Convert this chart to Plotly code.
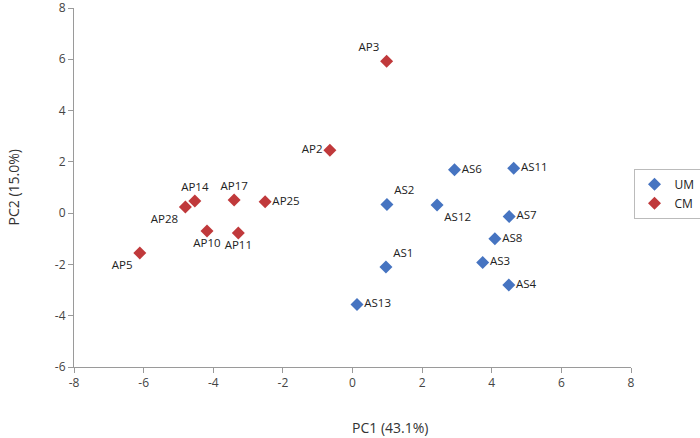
import plotly.graph_objects as go

um_labels = ["AS1", "AS2", "AS3", "AS4", "AS6", "AS7", "AS8", "AS11", "AS12", "AS13"]
um_x = [0.96, 0.99, 3.74, 4.49, 2.93, 4.50, 4.09, 4.63, 2.43, 0.13]
um_y = [-2.10, 0.34, -1.92, -2.80, 1.69, -0.13, -1.00, 1.75, 0.32, -3.56]

cm_labels = ["AP2", "AP3", "AP5", "AP10", "AP11", "AP14", "AP17", "AP25", "AP28"]
cm_x = [-0.65, 0.98, -6.11, -4.18, -3.28, -4.53, -3.40, -2.51, -4.80]
cm_y = [2.45, 5.92, -1.55, -0.70, -0.77, 0.47, 0.51, 0.44, 0.24]

x_ticks = [-8, -6, -4, -2, 0, 2, 4, 6, 8]
x_tick_labels = ["-8", "-6", "-4", "-2", "0", "2", "4", "6", "8"]
y_ticks = [-6, -4, -2, 0, 2, 4, 6, 8]
y_tick_labels = ["-6", "-4", "-2", "0", "2", "4", "6", "8"]

um_pos = ["top right", "top right", "middle right", "middle right", "middle right",
          "middle right", "middle right", "middle right", "bottom right", "middle right"]
cm_pos = ["middle left", "top left", "bottom left", "bottom center", "bottom center",
          "top center", "top center", "middle right", "bottom left"]

FONT = "Open Sans, Liberation Sans, sans-serif"
BLUE = "#4674C1"
RED = "#C0393B"

fig = go.Figure()
fig.add_trace(go.Scatter(x=um_x, y=um_y, mode="markers+text", name="UM",
                         text=um_labels, textposition=um_pos,
                         textfont=dict(size=11.5, color="#222", family=FONT),
                         marker=dict(symbol="diamond", size=10, color=BLUE)))
fig.add_trace(go.Scatter(x=cm_x, y=cm_y, mode="markers+text", name="CM",
                         text=cm_labels, textposition=cm_pos,
                         textfont=dict(size=11.5, color="#222", family=FONT),
                         marker=dict(symbol="diamond", size=10, color=RED)))

axis_common = dict(showgrid=False, zeroline=False, showline=True, linecolor="#9a9a9a",
                   linewidth=1, ticks="outside", tickcolor="#9a9a9a", ticklen=5,
                   automargin=False, ticklabeloverflow="allow",
                   tickfont=dict(size=12, color="#444", family=FONT))
fig.update_xaxes(range=[-8, 8], tickvals=x_ticks, ticktext=x_tick_labels, **axis_common)
fig.update_yaxes(range=[-6, 8], tickvals=y_ticks, ticktext=y_tick_labels, **axis_common)

fig.update_layout(
    width=700, height=438,
    margin=dict(l=74, r=69, t=8, b=71),
    plot_bgcolor="white", paper_bgcolor="white",
    font=dict(family=FONT),
    legend=dict(xref="container", yref="container", x=0.905, y=0.615,
                xanchor="left", yanchor="top",
                bordercolor="#bbbbbb", borderwidth=1,
                font=dict(size=12, color="#222", family=FONT),
                itemwidth=30, tracegroupgap=4),
    annotations=[
        dict(text="PC1 (43.1%)", x=0.5, y=0, xref="paper", yref="paper",
             xanchor="center", yanchor="middle", showarrow=False, xshift=37, yshift=-60,
             font=dict(size=14, color="#333", family=FONT)),
        dict(text="PC2 (15.0%)", x=0, y=0.5, xref="paper", yref="paper",
             xanchor="center", yanchor="middle", showarrow=False, textangle=-90,
             xshift=-61, font=dict(size=14, color="#333", family=FONT)),
    ],
)

fig.write_html("out.html", config={"displayModeBar": False},
               post_script="document.body.style.margin='0';")
